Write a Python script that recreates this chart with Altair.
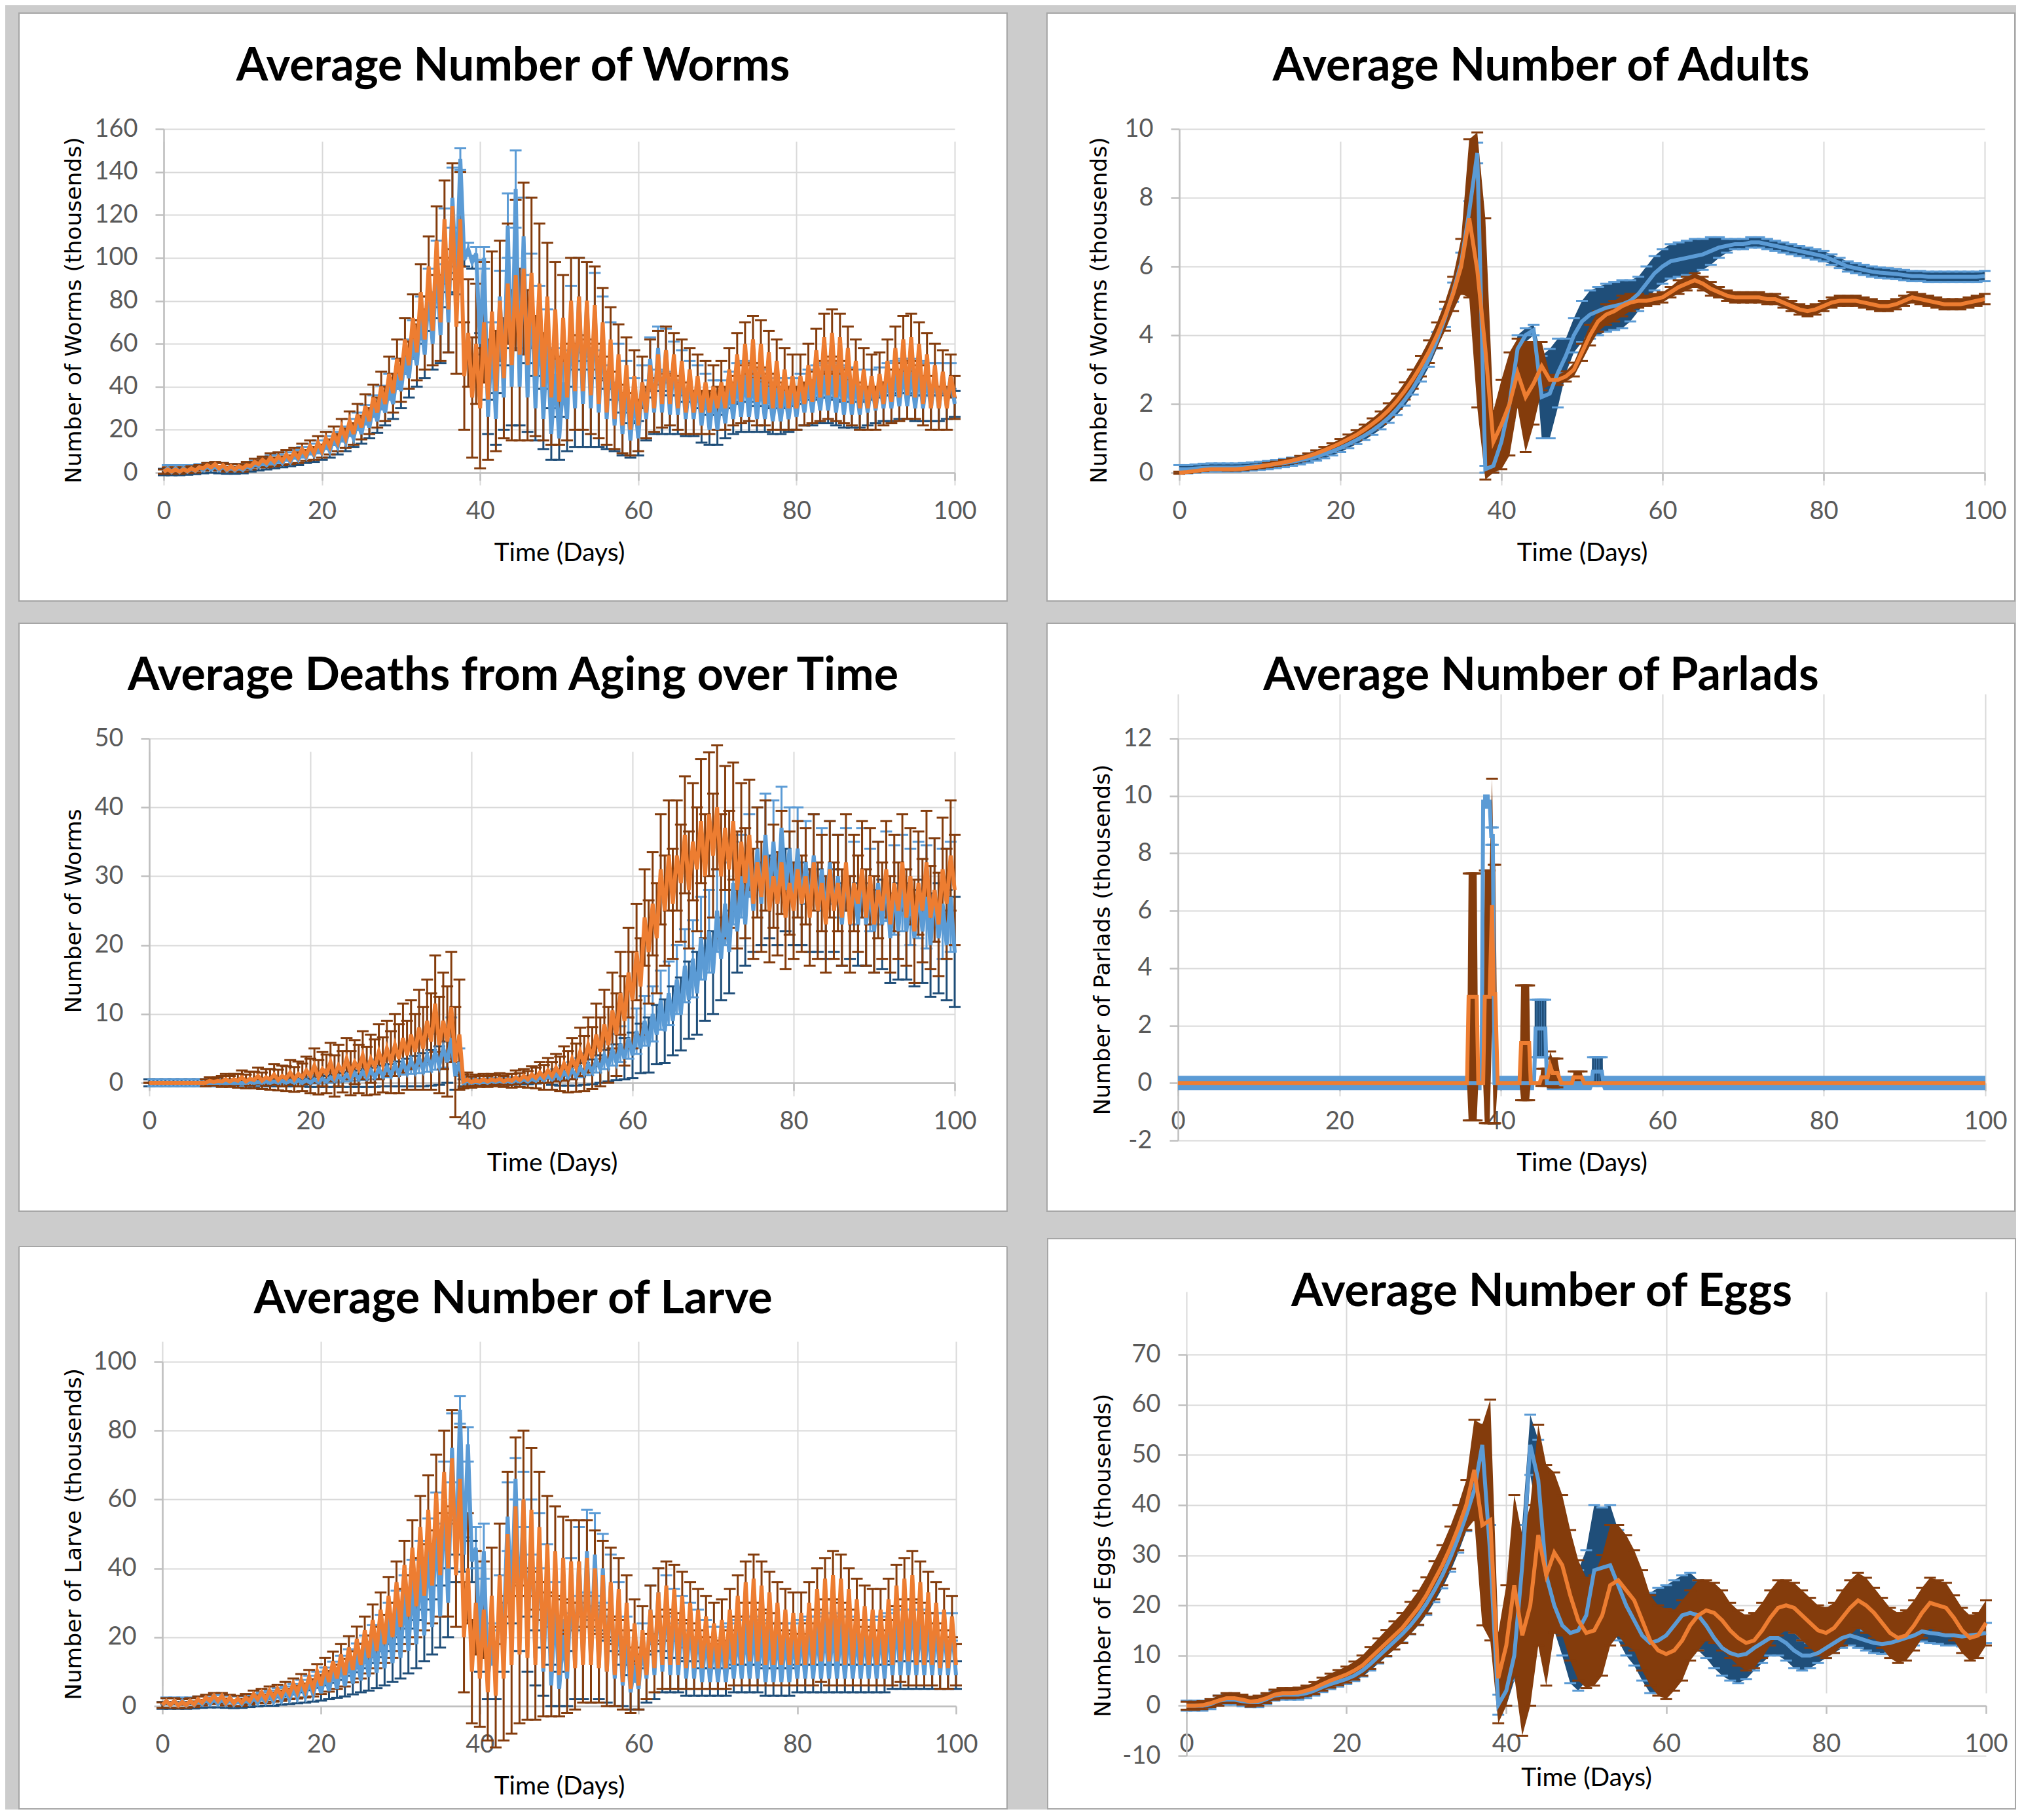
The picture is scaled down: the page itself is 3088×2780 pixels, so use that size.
import altair as alt
import pandas as pd

DAYS = list(range(101))
X_TICKS = [0, 20, 40, 60, 80, 100]

# ---------------- Worms (daily peak / trough / error) ----------------
WO_P = [1.5, 1.5, 1.5, 2, 2.5, 3.5, 4, 3.5, 3, 3,
        3.5, 5, 6, 7, 7.5, 8.5, 9.5, 11, 12.5, 14,
        16, 18, 21, 24, 27, 31, 35, 40, 46, 53,
        62, 72, 84, 96, 108, 118, 124, 118, 65, 60,
        70, 75, 80, 88, 92, 95, 93, 88, 82, 76,
        72, 80, 82, 80, 78, 70, 62, 55, 50, 45,
        42, 50, 55, 57, 55, 52, 48, 45, 42, 40,
        42, 48, 55, 60, 62, 60, 56, 52, 48, 45,
        45, 50, 57, 63, 65, 63, 58, 52, 48, 45,
        46, 52, 58, 62, 63, 60, 55, 50, 47, 45,
        45]
WO_T = [0.5, 0.5, 0.5, 0.8, 1, 2, 2.5, 2, 1.5, 1.5,
        2, 3, 4, 4.5, 5, 5.5, 6, 7, 8, 9,
        10, 12, 14, 16, 18, 21, 24, 28, 32, 37,
        43, 50, 56, 62, 66, 70, 76, 68, 45, 35,
        30, 34, 38, 44, 50, 55, 50, 45, 40, 35,
        33, 35, 38, 38, 36, 32, 28, 25, 22, 20,
        22, 28, 30, 32, 32, 30, 28, 28, 28, 28,
        30, 30, 32, 33, 35, 33, 32, 30, 30, 30,
        30, 32, 33, 35, 36, 35, 33, 32, 30, 30,
        30, 32, 33, 35, 36, 35, 32, 30, 30, 30,
        35]
WO_E = [1, 1, 1, 1, 1, 1, 1, 1, 1, 1,
        1.5, 1.5, 1.5, 2, 2, 2, 2, 2.5, 2.5, 3,
        3, 3.5, 4, 4.5, 5, 5.5, 6, 7, 8, 9,
        10, 11, 13, 14, 16, 18, 20, 22, 25, 28,
        28, 28, 28, 28, 35, 40, 35, 28, 25, 22,
        20, 20, 18, 18, 18, 16, 15, 14, 13, 12,
        12, 12, 11, 11, 10, 10, 10, 10, 10, 10,
        10, 10, 10, 10, 11, 11, 10, 10, 10, 10,
        10, 10, 10, 11, 11, 11, 10, 10, 10, 10,
        10, 10, 10, 11, 11, 10, 10, 10, 10, 10,
        10]
WB_P = [2, 2, 2, 2, 2.5, 3, 3, 3, 2.5, 2.5,
        3, 4, 5, 6, 6.5, 7.5, 8.5, 9.5, 11, 12,
        14, 16, 18, 21, 24, 27, 31, 35, 40, 46,
        54, 62, 72, 84, 96, 110, 128, 146, 104, 102,
        100, 62, 82, 115, 132, 110, 86, 72, 62, 46,
        42, 72, 82, 78, 75, 66, 56, 48, 42, 36,
        42, 53, 58, 57, 52, 48, 44, 42, 38, 36,
        36, 40, 44, 45, 44, 42, 40, 38, 38, 38,
        40, 42, 44, 45, 45, 44, 43, 42, 42, 42,
        43, 45, 46, 47, 47, 46, 45, 45, 45, 45,
        46]
WB_T = [0.3, 0.3, 0.3, 0.5, 0.8, 1.2, 1.5, 1.2, 1, 1,
        1.2, 2, 3, 3.5, 4, 4.5, 5, 6, 7, 8,
        9, 10, 12, 14, 16, 18, 21, 24, 28, 32,
        38, 44, 50, 55, 60, 64, 70, 88, 99, 98,
        60, 26, 25, 35, 40, 40, 35, 30, 25, 18,
        16, 25, 30, 32, 30, 28, 25, 22, 18, 15,
        16, 25, 28, 28, 27, 27, 25, 25, 22, 20,
        20, 23, 25, 26, 26, 25, 25, 24, 24, 25,
        26, 28, 28, 29, 29, 28, 27, 27, 27, 28,
        29, 30, 30, 31, 31, 30, 30, 30, 30, 31,
        32]
WB_E = [1.5, 1.5, 1.5, 1.5, 1.5, 1.5, 1.5, 1.5, 1.5, 1.5,
        1.5, 1.5, 2, 2, 2, 2, 2, 2.5, 2.5, 3,
        3, 3, 3.5, 4, 4, 4.5, 5, 5.5, 6, 7,
        8, 9, 10, 11, 12, 13, 14, 5, 3, 3,
        5, 8, 12, 15, 18, 18, 16, 15, 14, 12,
        10, 15, 18, 20, 18, 16, 14, 12, 10, 8,
        8, 10, 10, 10, 9, 9, 8, 8, 8, 7,
        7, 7, 7, 7, 7, 6, 6, 6, 6, 6,
        6, 6, 6, 6, 6, 6, 6, 6, 6, 6,
        6, 6, 6, 6, 6, 6, 6, 6, 6, 6,
        6]

# ---------------- Larve ----------------
LO_P = [1.5, 1.5, 1.2, 1.5, 2, 2.5, 3, 3, 2.5, 2.2,
        2.5, 3.5, 4, 4.5, 5, 5.5, 6.5, 7.5, 8.5, 10,
        11.5, 13, 15, 17, 19.5, 22, 25, 28, 32, 36,
        41, 46, 52, 57, 62, 68, 72, 66, 40, 30,
        28, 32, 38, 50, 58, 60, 57, 52, 47, 45,
        43, 42, 42, 43, 40, 38, 36, 34, 30, 24,
        22, 28, 33, 35, 34, 32, 30, 28, 26, 24,
        25, 28, 32, 36, 37, 35, 33, 30, 28, 27,
        27, 30, 34, 37, 38, 37, 34, 31, 29, 28,
        28, 31, 35, 37, 38, 36, 33, 30, 28, 26,
        26]
LO_T = [0.3, 0.3, 0.2, 0.3, 0.5, 1, 1.5, 1.5, 1, 0.8,
        1, 1.5, 2, 2, 2.5, 3, 3.5, 4, 4.5, 5,
        6, 7, 8, 9, 10.5, 12, 14, 16, 18, 20,
        23, 26, 29, 32, 35, 38, 40, 38, 20, 10,
        8, 4, 3, 8, 12, 15, 14, 12, 11, 10,
        9, 10, 11, 12, 12, 11, 10, 9, 7, 5,
        6, 9, 11, 12, 12, 12, 11, 11, 11, 11,
        11, 11, 12, 12, 13, 13, 12, 12, 12, 12,
        12, 12, 12, 13, 13, 13, 12, 12, 12, 12,
        12, 12, 12, 13, 13, 12, 12, 12, 11, 11,
        12]
LO_E = [0.8, 0.8, 0.8, 0.8, 0.8, 0.8, 0.8, 0.8, 0.8, 0.8,
        1, 1, 1, 1.2, 1.2, 1.5, 1.5, 1.8, 2, 2.2,
        2.5, 2.8, 3, 3.3, 3.6, 4, 4.5, 5, 5.5, 6,
        7, 8, 9, 10, 11, 12, 14, 15, 16, 15,
        14, 14, 15, 18, 20, 20, 18, 16, 14, 13,
        12, 12, 12, 11, 11, 10, 10, 9, 8, 7,
        7, 7, 7, 7, 7, 7, 6, 6, 6, 6,
        6, 6, 6, 6, 7, 7, 6, 6, 6, 6,
        6, 6, 6, 6, 7, 7, 6, 6, 6, 6,
        6, 6, 6, 6, 7, 6, 6, 6, 6, 6,
        6]
LB_P = [1.5, 1.5, 1.5, 1.5, 1.8, 2, 2.2, 2.2, 2, 1.8,
        2, 2.5, 3, 3.5, 4, 4.5, 5, 6, 7, 8,
        9, 10.5, 12, 13.5, 15, 17, 19.5, 22, 25, 28,
        32, 36, 41, 47, 54, 62, 75, 86, 76, 46,
        45, 18, 30, 55, 66, 60, 52, 48, 40, 30,
        20, 35, 42, 45, 44, 40, 35, 28, 20, 12,
        18, 28, 33, 32, 29, 27, 25, 23, 21, 19,
        19, 20, 21, 22, 22, 21, 20, 20, 20, 20,
        21, 22, 22, 23, 23, 22, 22, 21, 21, 21,
        22, 23, 24, 24, 24, 24, 23, 23, 23, 23,
        24]
LB_T = [0.2, 0.2, 0.2, 0.2, 0.3, 0.5, 0.6, 0.6, 0.5, 0.4,
        0.5, 0.7, 0.9, 1.1, 1.3, 1.6, 2, 2.4, 2.8, 3.3,
        3.8, 4.4, 5, 5.8, 6.6, 7.5, 8.5, 9.7, 11, 12.5,
        14, 16, 18, 20.5, 23, 26, 30, 40, 44, 42,
        18, 8, 10, 20, 30, 24, 18, 14, 10, 6,
        5, 8, 12, 14, 13, 12, 10, 8, 6, 4,
        5, 8, 9, 10, 9, 9, 8, 8, 7, 7,
        7, 7, 8, 8, 8, 8, 7, 7, 7, 7,
        8, 8, 8, 8, 8, 8, 8, 8, 8, 8,
        8, 8, 9, 9, 9, 9, 9, 9, 9, 9,
        9]
LB_E = [1, 1, 1, 1, 1, 1, 1, 1, 1, 1,
        1, 1, 1, 1, 1.2, 1.2, 1.4, 1.6, 1.8, 2,
        2.2, 2.4, 2.6, 3, 3.2, 3.5, 4, 4.5, 5, 5.5,
        6, 6.5, 7, 7.5, 8, 9, 10, 4, 5, 6,
        8, 6, 8, 10, 6, 8, 8, 8, 7, 6,
        5, 8, 10, 12, 12, 10, 9, 8, 6, 5,
        6, 7, 7, 6, 5, 5, 5, 5, 4, 4,
        4, 4, 4, 4, 4, 4, 4, 4, 4, 4,
        4, 4, 4, 4, 4, 4, 4, 4, 4, 4,
        4, 4, 4, 4, 4, 4, 4, 4, 4, 4,
        4]

# ---------------- Deaths from aging ----------------
DO_P = [0, 0, 0, 0, 0, 0, 0, 0.3, 0.3, 0.5,
        0.5, 0.8, 0.6, 1, 0.8, 1.2, 1, 1.5, 1.3, 1.8,
        2.5, 2, 3, 2.5, 3.5, 3, 4, 3.5, 4.5, 5,
        5.5, 6.5, 7, 8, 9, 11.5, 9, 11, 7, 0.5,
        0.4, 0.5, 0.5, 0.6, 0.5, 0.8, 1, 1.2, 1.5, 1.8,
        2.2, 2.8, 3.5, 4.5, 5.5, 7, 8.5, 10.5, 13, 16,
        19, 24, 26, 31, 33, 33, 36, 35, 38, 39,
        40, 37, 38, 35, 36, 32, 33, 30, 32, 29,
        31, 30, 32, 29, 31, 29, 32, 29, 31, 30,
        28, 31, 29, 32, 30, 29, 32, 28, 31, 33,
        36]
DO_T = [0, 0, 0, 0, 0, 0, 0, 0, 0.1, 0.2,
        0.2, 0.3, 0.2, 0.4, 0.3, 0.5, 0.4, 0.6, 0.5, 0.8,
        1, 0.8, 1.3, 1, 1.6, 1.4, 2, 1.7, 2.3, 2.6,
        3, 3.5, 4, 4.5, 5, 6, 5.5, 6, 3, 0.2,
        0.1, 0.2, 0.2, 0.3, 0.2, 0.3, 0.4, 0.5, 0.7, 0.8,
        1, 1.3, 1.6, 2.2, 2.8, 3.6, 4.5, 5.5, 7, 9,
        12, 14, 19, 21, 25, 26, 29, 28, 31, 30,
        33, 30, 31, 28, 29, 26, 27, 25, 26, 24,
        25, 26, 24, 25, 23, 25, 24, 23, 26, 24,
        23, 25, 23, 25, 24, 22, 25, 24, 23, 26,
        28]
DO_E = [0, 0, 0, 0, 0, 0, 0, 0.5, 0.5, 0.8,
        0.8, 1, 1, 1.2, 1.2, 1.5, 1.5, 1.8, 1.8, 2,
        2.5, 2.5, 2.8, 3, 3, 3.2, 3.5, 3.5, 4, 4,
        4.5, 5, 5, 5.5, 6, 7, 7, 8, 8, 1,
        0.8, 0.8, 0.8, 0.8, 0.8, 1, 1, 1.2, 1.5, 1.8,
        2, 2.5, 3, 3.5, 4, 4.5, 5, 5.5, 6, 6.5,
        7, 7, 7.5, 8, 8, 8, 8.5, 8.5, 9, 9,
        9, 9, 8.5, 8.5, 8, 8, 8, 7.5, 7.5, 7.5,
        7, 7, 7, 7, 7, 7, 7, 7, 7, 7,
        7, 7, 7, 7, 7, 7.5, 7.5, 7.5, 7.5, 8,
        8]
DB_P = [0, 0, 0, 0, 0, 0, 0, 0, 0, 0,
        0, 0, 0.1, 0.1, 0.2, 0.2, 0.3, 0.3, 0.4, 0.4,
        0.5, 0.6, 0.8, 1, 1.2, 1.4, 1.6, 1.8, 2, 2.3,
        2.6, 3, 3.3, 3.6, 4, 4.5, 5, 6.5, 3, 0.3,
        0.2, 0.2, 0.3, 0.3, 0.3, 0.4, 0.5, 0.6, 0.8, 1,
        1.2, 1.5, 1.8, 2.2, 2.7, 3.3, 4, 4.8, 5.6, 6.5,
        7.5, 9, 10, 12, 13, 15, 17, 18, 21, 22,
        25, 26, 29, 30, 33, 34, 36, 35, 37, 34,
        34, 32, 33, 31, 32, 30, 31, 29, 31, 28,
        29, 30, 28, 29, 27, 28, 27, 28, 26, 27,
        25]
DB_T = [0, 0, 0, 0, 0, 0, 0, 0, 0, 0,
        0, 0, 0, 0, 0, 0, 0, 0, 0, 0,
        0, 0.1, 0.2, 0.3, 0.4, 0.5, 0.6, 0.7, 0.8, 1,
        1.1, 1.3, 1.5, 1.7, 1.9, 2.2, 2.5, 3, 1, 0,
        0, 0, 0, 0.1, 0.1, 0.1, 0.2, 0.2, 0.3, 0.4,
        0.5, 0.6, 0.8, 1, 1.3, 1.6, 2, 2.5, 3, 3.5,
        4, 5, 5.5, 7, 7.5, 9, 10, 12, 13, 15,
        16, 18, 19, 22, 23, 25, 26, 27, 26, 28,
        26, 26, 25, 25, 24, 25, 23, 24, 23, 23,
        22, 23, 21, 22, 22, 21, 22, 20, 21, 20,
        19]
DB_E = [0.5, 0.5, 0.5, 0.5, 0.5, 0.5, 0.5, 0.5, 0.5, 0.5,
        0.5, 0.5, 0.5, 0.5, 0.5, 0.5, 0.5, 0.5, 0.5, 0.5,
        0.6, 0.7, 0.8, 0.9, 1, 1.1, 1.2, 1.3, 1.4, 1.5,
        1.6, 1.8, 2, 2.2, 2.4, 2.6, 2.8, 3, 2, 0.5,
        0.4, 0.4, 0.4, 0.4, 0.4, 0.4, 0.4, 0.4, 0.4, 0.4,
        0.8, 1, 1.2, 1.4, 1.6, 1.8, 2, 2.3, 2.6, 3,
        3.3, 3.6, 4, 4.3, 4.6, 5, 5.3, 5.6, 6, 6,
        6, 6, 6, 6, 6, 6, 6, 6, 6, 6,
        6, 6, 6, 6, 6, 6, 6, 6, 6, 6,
        6, 6.5, 6.5, 7, 7, 7, 7.5, 7.5, 8, 8,
        8]

# ---------------- Adults (daily mean / error) ----------------
AO = [0, 0.02, 0.05, 0.08, 0.1, 0.1, 0.1, 0.1, 0.12, 0.15,
      0.18, 0.22, 0.26, 0.3, 0.35, 0.41, 0.48, 0.56, 0.65, 0.75,
      0.86, 0.98, 1.1, 1.25, 1.42, 1.6, 1.82, 2.08, 2.38, 2.72,
      3.1, 3.52, 4.0, 4.55, 5.2, 6.0, 7.4, 5.9, 3.6, 0.9,
      1.4, 2.0, 2.9, 2.2, 2.6, 3.1, 2.7, 2.7, 2.8, 3.0,
      3.5, 4.0, 4.4, 4.6, 4.7, 4.85, 4.95, 5.0, 5.0, 5.05,
      5.1, 5.25, 5.4, 5.5, 5.6, 5.5, 5.35, 5.25, 5.15, 5.1,
      5.1, 5.1, 5.1, 5.05, 5.05, 4.95, 4.85, 4.75, 4.7, 4.75,
      4.85, 4.95, 5.0, 5.0, 5.0, 4.95, 4.9, 4.85, 4.85, 4.9,
      5.0, 5.1, 5.05, 5.0, 4.95, 4.9, 4.9, 4.9, 4.95, 5.0,
      5.05]
AO_E = [0.03, 0.03, 0.03, 0.03, 0.03, 0.03, 0.04, 0.04, 0.04, 0.05,
        0.05, 0.06, 0.06, 0.07, 0.07, 0.08, 0.08, 0.09, 0.1, 0.11,
        0.12, 0.13, 0.14, 0.15, 0.16, 0.18, 0.2, 0.22, 0.25, 0.28,
        0.3, 0.33, 0.37, 0.42, 0.5, 0.8, 2.3, 4.0, 3.8, 0.9,
        1.3, 1.5, 1.0, 1.6, 1.2, 0.7, 0.15, 0.15, 0.15, 0.2,
        0.25, 0.3, 0.3, 0.3, 0.3, 0.3, 0.25, 0.2, 0.15, 0.15,
        0.15, 0.15, 0.2, 0.2, 0.2, 0.2, 0.2, 0.15, 0.15, 0.15,
        0.15, 0.15, 0.15, 0.15, 0.15, 0.15, 0.15, 0.15, 0.15, 0.15,
        0.15, 0.15, 0.15, 0.15, 0.15, 0.15, 0.15, 0.15, 0.15, 0.15,
        0.15, 0.15, 0.15, 0.15, 0.15, 0.15, 0.15, 0.15, 0.15, 0.15,
        0.15]
AB = [0.1, 0.1, 0.12, 0.14, 0.15, 0.15, 0.15, 0.15, 0.16, 0.18,
      0.2, 0.22, 0.25, 0.28, 0.32, 0.36, 0.41, 0.47, 0.54, 0.62,
      0.72, 0.83, 0.95, 1.08, 1.23, 1.4, 1.6, 1.84, 2.12, 2.45,
      2.85, 3.3, 3.85, 4.5, 5.25, 6.1, 7.6, 9.3, 0.1, 0.2,
      0.9, 2.0, 3.6, 4.0, 4.15, 2.2, 2.3, 2.9, 3.4, 4.0,
      4.4, 4.6, 4.7, 4.8, 4.85, 4.9, 5.0, 5.2, 5.5, 5.8,
      6.0, 6.15, 6.2, 6.25, 6.3, 6.35, 6.45, 6.55, 6.6, 6.65,
      6.65, 6.7, 6.7, 6.65, 6.6, 6.55, 6.5, 6.45, 6.4, 6.35,
      6.3, 6.2, 6.1, 6.0, 5.95, 5.9, 5.85, 5.82, 5.8, 5.78,
      5.75, 5.72, 5.72, 5.7, 5.7, 5.7, 5.7, 5.7, 5.7, 5.7,
      5.72]
AB_E = [0.12, 0.12, 0.12, 0.12, 0.12, 0.12, 0.12, 0.12, 0.12, 0.12,
        0.12, 0.12, 0.12, 0.12, 0.12, 0.12, 0.12, 0.12, 0.12, 0.12,
        0.12, 0.12, 0.12, 0.13, 0.13, 0.14, 0.15, 0.16, 0.17, 0.18,
        0.2, 0.22, 0.24, 0.26, 0.28, 0.3, 0.3, 0.3, 0.1, 0.2,
        0.3, 0.5, 0.4, 0.2, 0.15, 1.2, 1.3, 1.0, 0.5, 0.5,
        0.6, 0.7, 0.7, 0.7, 0.7, 0.7, 0.6, 0.5, 0.5, 0.5,
        0.5, 0.5, 0.5, 0.5, 0.5, 0.45, 0.4, 0.3, 0.2, 0.15,
        0.15, 0.15, 0.15, 0.15, 0.15, 0.15, 0.15, 0.15, 0.15, 0.15,
        0.15, 0.15, 0.15, 0.15, 0.15, 0.15, 0.15, 0.15, 0.15, 0.15,
        0.15, 0.15, 0.15, 0.15, 0.15, 0.15, 0.15, 0.15, 0.15, 0.15,
        0.15]

# ---------------- Eggs (daily mean / error) ----------------
EO = [0, 0, 0.1, 0.5, 1.0, 1.5, 1.5, 1.2, 0.8, 1.0,
      1.5, 2.2, 2.5, 2.5, 2.6, 3.0, 3.5, 4.3, 5.0, 5.6,
      6.2, 7.0, 8.0, 9.5, 11, 12.5, 14, 15.5, 17.5, 19.5,
      22, 25, 28, 31.5, 35.5, 40, 47, 36, 37, 5.5,
      12, 24, 14, 20, 34, 26, 30.5, 28, 22, 17,
      14.5, 15, 18, 24, 25, 23, 21, 17, 13, 11,
      10.3, 11, 13, 16, 18, 19, 18.5, 17, 15, 13.5,
      12.5, 13, 15, 17.5, 19.5, 20, 19.5, 18, 16.5, 15,
      14.5, 15.5, 17.5, 19.5, 21, 20, 18.5, 16.5, 14.5, 13.5,
      14, 16, 18.5, 20.5, 20, 19.5, 17.5, 15, 13.5, 14,
      16.5]
EO_E = [0.8, 0.8, 0.8, 0.8, 1, 1, 1, 1, 1, 1,
        1, 1, 1, 1, 1, 1, 1.2, 1.3, 1.4, 1.5,
        1.6, 1.8, 2, 2.2, 2.4, 2.6, 2.8, 3, 3.2, 3.4,
        3.6, 3.8, 4, 4.2, 4.5, 5, 10, 20, 24, 9,
        12, 18, 20, 20, 22, 22, 16, 14, 13, 12,
        11, 11, 12, 12, 11, 11, 10, 10, 9, 9,
        9, 8, 8, 7, 7, 6, 6, 6, 5.5, 5.5,
        5.5, 5.5, 5.5, 5.5, 5.5, 5, 5, 5, 5, 5,
        5, 5, 5.5, 5.5, 5.5, 5.5, 5, 5, 5, 5,
        5, 5, 5, 5, 5, 5, 4.5, 4.5, 4.5, 4.5,
        4.5]
EB = [0, 0, 0, 0.3, 1.0, 1.2, 1.2, 0.9, 0.7, 0.7,
      1.3, 2.0, 2.2, 2.2, 2.2, 2.5, 3.0, 3.7, 4.3, 4.8,
      5.3, 6.0, 7.0, 8.3, 9.8, 11.3, 12.8, 14.3, 16.0, 18.0,
      20.3, 23, 26, 29.5, 33.5, 38, 43, 52, 30, 0.2,
      3, 10, 28, 52, 45, 26, 20, 16, 14.5, 15,
      18, 27, 27.5, 28, 24, 20, 17, 14, 12.5, 13,
      14, 16, 18, 18.5, 18, 16, 13.5, 11.5, 10.5, 10,
      10.3, 11.5, 12.5, 13.5, 13.5, 12.5, 11, 10, 10, 10.5,
      11.5, 12.5, 13.5, 14, 13.5, 13, 12.5, 12.3, 12.5, 13,
      13.5, 14, 14.8, 14.5, 14.3, 14, 14, 13.8, 14, 14.2,
      14.5]
EB_E = [1, 1, 1, 1, 1, 1, 1, 1, 1, 1,
        1, 1, 1, 1, 1, 1, 1, 1, 1, 1,
        1, 1.1, 1.2, 1.3, 1.4, 1.5, 1.6, 1.7, 1.8, 2,
        2.2, 2.4, 2.6, 2.8, 3, 3.2, 3.5, 4, 6, 2,
        3, 5, 8, 6, 8, 6, 5, 6, 10, 12,
        13, 13, 12, 12, 11, 10, 9, 9, 10, 10.5,
        10, 9, 8, 8, 7, 6.5, 6, 5.5, 5.5, 5.5,
        5, 4.5, 4, 3.5, 3.5, 3.5, 3.5, 3, 2.5, 2,
        2, 2, 2, 2, 2, 2, 2, 2, 2, 2,
        2, 2, 2, 2, 2, 2, 2, 2, 2, 2,
        2]

# ---------------- Parlads (irregular time points) ----------------
PO_T = [0, 35.8, 36.0, 36.2, 36.4, 36.6, 36.8, 37.0, 37.2, 37.8,
        38.0, 38.2, 38.4, 38.6, 38.9, 39.1, 39.3, 39.6, 42.3, 42.5,
        42.7, 42.9, 43.1, 43.3, 43.5, 43.7, 44.8, 45.0, 45.3, 45.6,
        45.8, 46.1, 46.4, 46.6, 47.0, 47.5, 48.8, 49.0, 49.3, 49.6,
        50.0, 50.3, 100]
PO_V = [0, 0, 3.0, 3.0, 3.0, 3.0, 3.0, 3.0, 0, 0,
        3.0, 3.0, 3.0, 3.0, 6.2, 3.1, 3.1, 0, 0, 1.4,
        1.4, 1.4, 1.4, 1.4, 1.4, 0, 0, 0.2, 0.2, 0.2,
        0.2, 0.6, 0.35, 0.35, 0.35, 0, 0, 0.2, 0.2, 0.2,
        0.2, 0, 0]
PO_E = [0, 0, 4.3, 4.3, 4.3, 4.3, 4.3, 4.3, 0, 0,
        4.4, 4.4, 4.4, 4.4, 4.4, 4.5, 4.5, 0, 0, 2.0,
        2.0, 2.0, 2.0, 2.0, 2.0, 0, 0, 0.3, 0.3, 0.3,
        0.3, 0.5, 0.5, 0.5, 0.5, 0, 0, 0.2, 0.2, 0.2,
        0.2, 0, 0]
PB_T = [0, 37.6, 37.8, 38.0, 38.2, 38.4, 38.6, 38.8, 39.0, 39.2,
        44.1, 44.3, 44.6, 44.9, 45.2, 45.5, 45.7, 51.2, 51.4, 51.7,
        52.0, 52.3, 52.5, 52.7, 100]
PB_V = [0, 0, 9.8, 9.8, 9.8, 9.8, 9.8, 8.6, 8.6, 0,
        0, 1.9, 1.9, 1.9, 1.9, 1.9, 0, 0, 0.4, 0.4,
        0.4, 0.4, 0.4, 0, 0]
PB_E = [0.25, 0.25, 0.25, 0.25, 0.25, 0.25, 0.25, 0.3, 0.3, 0.25,
        0.25, 1.0, 1.0, 1.0, 1.0, 1.0, 0.25, 0.25, 0.5, 0.5,
        0.5, 0.5, 0.5, 0.25, 0.25]

LIGHT_BLUE = "#5B9BD5"
DARK_BLUE = "#1F4E79"
ORANGE = "#ED7D31"
BROWN = "#843C0C"
GRID = "#D9D9D9"
AXIS = "#BFBFBF"
PAGE = "#CCCCCC"
BORDER = "#A6A6A6"
FULL_W = 1509


def zig(P, T, E):
    t, v, e = [], [], []
    for d in DAYS:
        t.append(d); v.append(T[d]); e.append(E[d])
        if d < 100:
            t.append(d + 0.5); v.append(P[d]); e.append(E[d])
    return frame(t, v, e)


def frame(t, v, e):
    df = pd.DataFrame({"t": t, "v": v, "e": e})
    df["lo"] = df["v"] - df["e"]
    df["hi"] = df["v"] + df["e"]
    df["k"] = [i % 2 for i in range(len(df))]
    return df


def panel(title, ytitle, blue, orange, ydom, yticks, RW, RH, L, W, T, H,
          ytx, xty, style, cover=0, ytitle_shift=0):
    y0px = T + H * (ydom[1] - 0) / (ydom[1] - ydom[0])
    xaxis = alt.Axis(values=X_TICKS, grid=True, gridColor=GRID, gridWidth=2,
                     domain=True, domainColor=AXIS, domainWidth=2.5,
                     ticks=True, tickColor=AXIS, tickWidth=2.5, tickSize=12,
                     labelFont="Lato", labelFontSize=38, labelColor="#595959",
                     labelPadding=58, labelBaseline="alphabetic",
                     labelFlush=False, labelOverlap=False,
                     title="Time (Days)", titleFont="Lato", titleFontSize=39,
                     titleFontWeight="normal", titleColor="black",
                     titleBaseline="alphabetic", titleY=xty, offset=y0px - RH)
    yaxis = alt.Axis(values=yticks, grid=True, gridColor=GRID, gridWidth=2,
                     domain=True, domainColor=AXIS, domainWidth=2.5,
                     ticks=True, tickColor=AXIS, tickWidth=2.5, tickSize=13,
                     labelFont="Lato", labelFontSize=38, labelColor="#595959",
                     labelPadding=27, labelFlush=False, labelOverlap=False,
                     labelExpr="'' + datum.value",
                     title=ytitle, titleFont="DejaVu Sans", titleFontSize=34.5,
                     titleFontWeight="normal", titleColor="black",
                     titleBaseline="alphabetic", titleAngle=270, titleX=ytx,
                     titleY=T + H / 2 + ytitle_shift, offset=-L)
    xs = alt.Scale(domain=[0, 100], range=[L, L + W], nice=False, zero=False)
    ys = alt.Scale(domain=ydom, range=[T + H, T], nice=False, zero=False)
    Xn = alt.X("t:Q", scale=xs, axis=xaxis)
    Yn = alt.Y("v:Q", scale=ys, axis=yaxis)
    Ylo = alt.Y("lo:Q", scale=ys, axis=yaxis)
    Yhi = alt.Y("hi:Q", scale=ys, axis=yaxis)
    one = pd.DataFrame({"a": [0]})

    def caps(df, color):
        return [alt.Chart(df).mark_rule(color=color, strokeWidth=3, xOffset=-9, x2Offset=9)
                .encode(x=Xn, x2=alt.X2("t:Q"), y=Yy) for Yy in (Ylo, Yhi)]

    def rules(df, color):
        return alt.Chart(df).mark_rule(color=color, strokeWidth=3).encode(
            x=Xn, y=Ylo, y2=alt.Y2("hi:Q"))

    def line(df, color):
        return alt.Chart(df).mark_line(color=color, strokeWidth=6).encode(x=Xn, y=Yn)

    def band(df, color):
        return alt.Chart(df).mark_area(color=color).encode(x=Xn, y=Ylo, y2=alt.Y2("hi:Q"))

    layers = []
    if style == "bars":
        b0 = blue[blue["k"] == 0]
        b1 = blue[blue["k"] == 1]
        layers += [rules(b0, DARK_BLUE), rules(b1, LIGHT_BLUE)]
        layers += caps(b0, DARK_BLUE) + caps(b1, LIGHT_BLUE)
        layers.append(rules(orange, BROWN))
        layers += caps(orange, BROWN)
    elif style == "band":
        layers.append(band(blue, DARK_BLUE))
        layers += caps(blue, LIGHT_BLUE)
        layers.append(band(orange, BROWN))
        layers += caps(orange, BROWN)
    else:  # parlads
        layers.append(band(blue, LIGHT_BLUE))
        layers.append(rules(blue[blue["e"] >= 0.5], DARK_BLUE))
        layers += caps(blue[blue["e"] >= 0.3], LIGHT_BLUE)
        layers.append(band(orange, BROWN))
        layers += caps(orange[orange["e"] > 0], BROWN)
    layers.append(line(blue, LIGHT_BLUE))
    layers.append(line(orange, ORANGE))

    if cover:
        layers.append(alt.Chart(one).mark_rect(color=PAGE).encode(
            x=alt.value(-1), x2=alt.value(RW + 1), y=alt.value(-1), y2=alt.value(cover)))
        layers.append(alt.Chart(one).mark_rule(color=BORDER, strokeWidth=2).encode(
            x=alt.value(0), x2=alt.value(RW), y=alt.value(cover)))
    layers.append(alt.Chart(one).mark_text(
        text=title, font="Lato", fontSize=70, fontWeight="bold", color="black",
        align="center", baseline="alphabetic").encode(
        x=alt.value(FULL_W / 2), y=alt.value(T - 74)))

    return alt.layer(*layers).properties(width=RW, height=RH)


worms = panel("Average Number of Worms", "Number of Worms (thousends)",
              zig(WB_P, WB_T, WB_E), zig(WO_P, WO_T, WO_E), [0, 160], list(range(0, 161, 20)),
              1509, 898, 221, 1208, 177, 525, -127, 134, "bars", ytitle_shift=14)
adults = panel("Average Number of Adults", "Number of Worms (thousends)",
               frame(DAYS, AB, AB_E), frame(DAYS, AO, AO_E), [0, 10], list(range(0, 11, 2)),
               1478, 898, 202, 1230, 177, 525, -112, 134, "band", ytitle_shift=14)
deaths = panel("Average Deaths from Aging over Time", "Number of Worms",
               zig(DB_P, DB_T, DB_E), zig(DO_P, DO_T, DO_E), [0, 50], list(range(0, 51, 10)),
               1509, 898, 199, 1230, 176, 526, -105, 134, "bars")
parlads = panel("Average Number of Parlads", "Number of Parlads (thousends)",
                frame(PB_T, PB_V, PB_E), frame(PO_T, PO_V, PO_E), [-2, 12], list(range(-2, 13, 2)),
                1478, 898, 200, 1233, 176, 614, -105, 134, "parlads")
larve = panel("Average Number of Larve", "Number of Larve (thousends)",
              zig(LB_P, LB_T, LB_E), zig(LO_P, LO_T, LO_E), [0, 100], list(range(0, 101, 20)),
              1509, 871, 219, 1212, 188, 526, -125, 134, "bars", cover=12)
eggs = panel("Average Number of Eggs", "Number of Eggs (thousends)",
             frame(DAYS, EB, EB_E), frame(DAYS, EO, EO_E), [-10, 70], list(range(-10, 71, 10)),
             1478, 871, 212, 1221, 177, 613, -117, 122, "band")

row1 = alt.hconcat(worms, adults, spacing=59)
row2 = alt.hconcat(deaths, parlads, spacing=59)
row3 = alt.hconcat(larve, eggs, spacing=59)
chart = alt.vconcat(alt.vconcat(row1, row2, spacing=32), row3, spacing=39).properties(
    padding={"left": 19, "top": 11, "right": 0, "bottom": 0}
).configure(background=PAGE).configure_view(fill="white", stroke=BORDER, strokeWidth=2)

chart.save("out.html", embed_options={"renderer": "svg", "actions": False})
